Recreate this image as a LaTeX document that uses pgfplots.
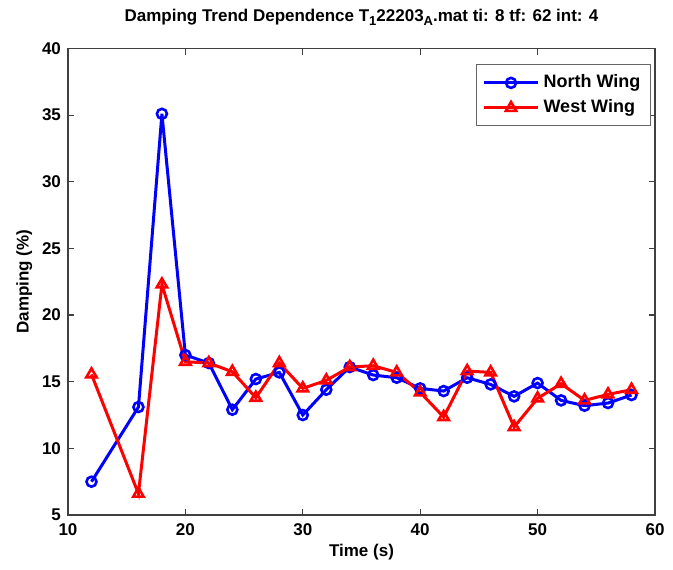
\documentclass[border=0pt]{standalone}
\usepackage{fontspec}
\setmainfont{Liberation Sans}
\usepackage{pgfplots}
\pgfplotsset{compat=1.18}
\begin{document}
\begin{tikzpicture}
\begin{axis}[
  at={(0,0)}, anchor=south west,
  scale only axis,
  width=293.5pt, height=233.25pt,
  xmin=10, xmax=60, ymin=5, ymax=40,
  xtick={10,20,...,60}, ytick={5,10,...,40},
  tick align=inside, tick pos=both,
  major tick length=3pt,
  axis line style={draw=black!75, line width=0.6pt},
  every tick/.style={black!75, line width=0.6pt},
  /pgf/number format/assume math mode=true,
  tick label style={font=\fontsize{8.5}{10}\selectfont\bfseries},
  xticklabel style={yshift=-1pt},
  label style={font=\fontsize{8.5}{10}\selectfont\bfseries},
  xlabel={Time (s)}, ylabel={Damping (\%)},
  xlabel style={yshift=3pt},
  ylabel style={yshift=-2pt},
  title={Damping Trend Dependence T\raisebox{-0.45ex}{\fontsize{6.5}{7}\selectfont 1}22203\raisebox{-0.45ex}{\fontsize{6.5}{7}\selectfont A}.mat ti: 8 tf: 62 int: 4},
  title style={font=\fontsize{8.5}{10}\selectfont\bfseries, yshift=2pt},
  legend style={at={(0.993,0.966)}, anchor=north east, draw=black!60, line width=0.5pt,
    font=\fontsize{9}{11}\selectfont\bfseries, inner xsep=3pt, inner ysep=3pt, row sep=0.5pt},
  legend cell align=left,
  legend image code/.code={
    \draw[#1, mark=none] (0cm,0cm) -- (0.95cm,0cm);
    \draw[#1, only marks] plot coordinates {(0.475cm,0cm)};
  },
]
\addplot[color={rgb,255:red,0;green,0;blue,255}, line width=1.5pt, mark=o, mark size=2.5pt, mark options={line width=1.3pt}] coordinates {
(12,7.5) (16,13.1) (18,35.1) (20,17.0) (22,16.4) (24,12.9) (26,15.2) (28,15.7)
(30,12.5) (32,14.4) (34,16.1) (36,15.5) (38,15.3) (40,14.5) (42,14.3) (44,15.3)
(46,14.8) (48,13.9) (50,14.9) (52,13.6) (54,13.2) (56,13.4) (58,14.0)
};
\addlegendentry{North Wing}
\addplot[color={rgb,255:red,255;green,0;blue,0}, line width=1.5pt, mark=triangle, mark size=3pt, mark options={line width=1.3pt}] coordinates {
(12,15.55) (16,6.6) (18,22.3) (20,16.5) (22,16.4) (24,15.75) (26,13.8) (28,16.4)
(30,14.5) (32,15.1) (34,16.1) (36,16.2) (38,15.7) (40,14.2) (42,12.35) (44,15.8)
(46,15.7) (48,11.6) (50,13.75) (52,14.85) (54,13.6) (56,14.05) (58,14.4)
};
\addlegendentry{West Wing}
\end{axis}
\path (-34pt,-27pt) rectangle (302.5pt,257.5pt);
\end{tikzpicture}
\end{document}
